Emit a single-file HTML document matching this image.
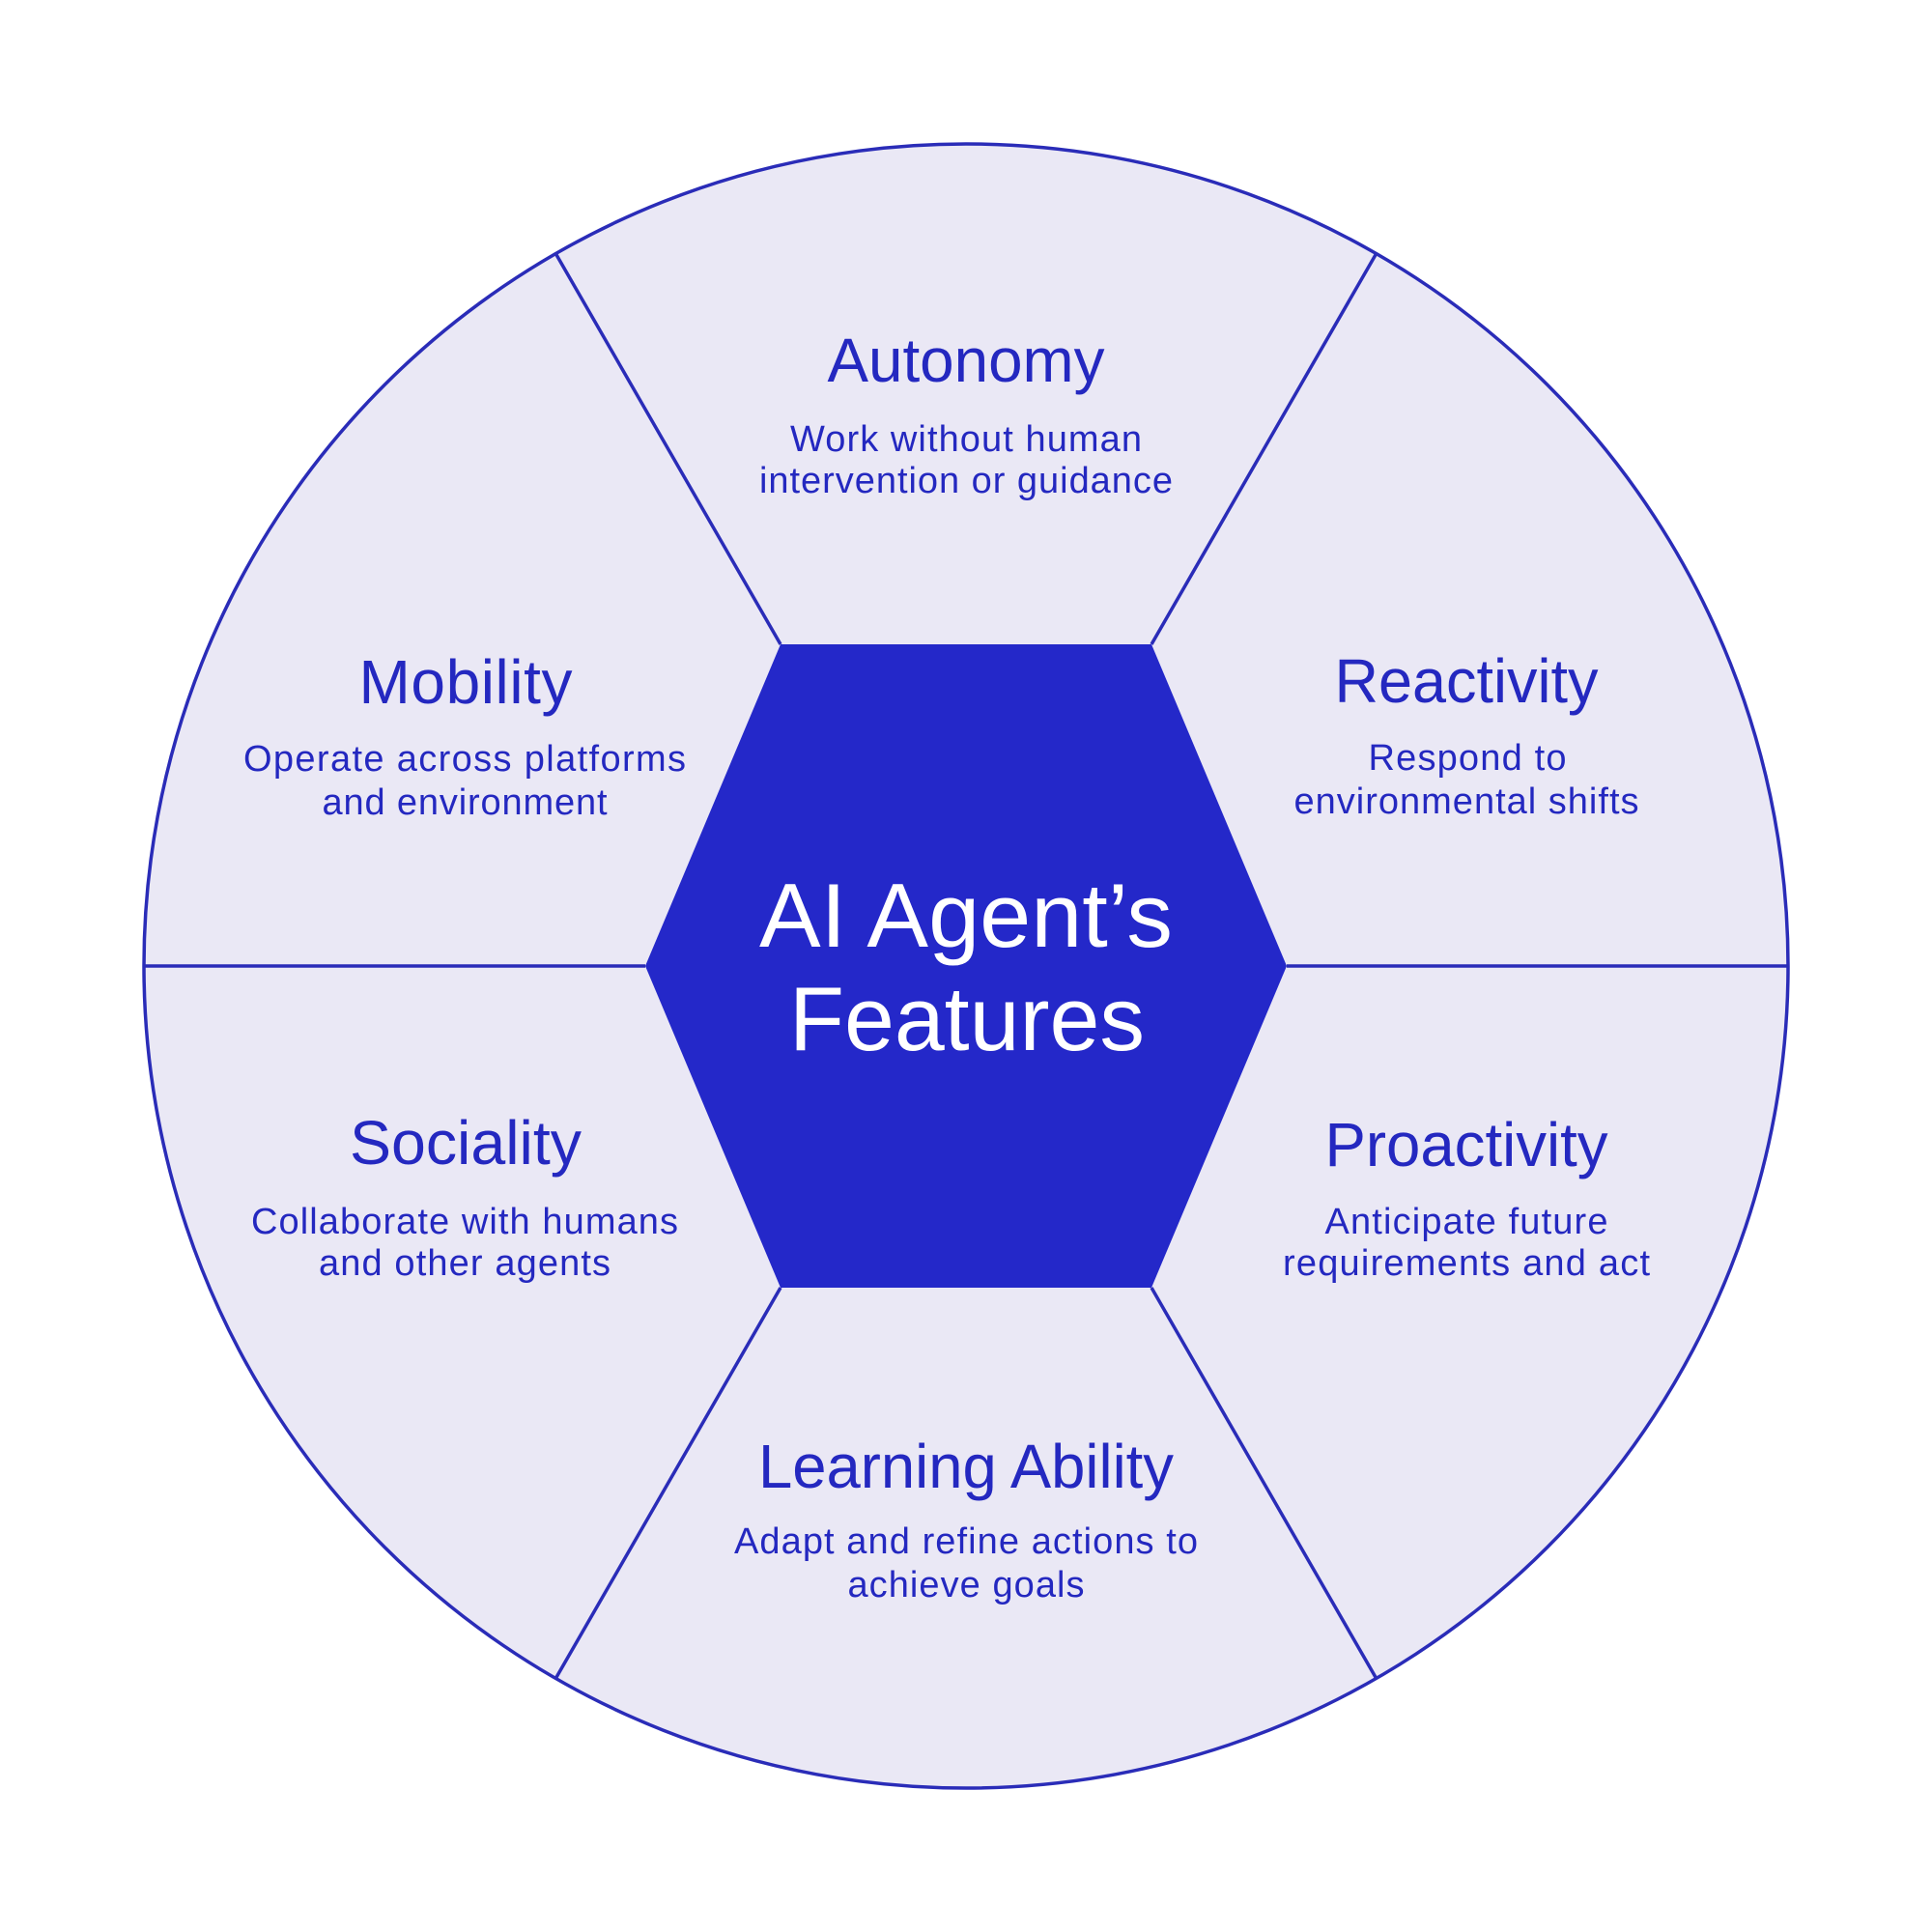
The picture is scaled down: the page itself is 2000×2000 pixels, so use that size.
<!DOCTYPE html>
<html>
<head>
<meta charset="utf-8">
<style>
  html, body { margin: 0; padding: 0; background: #ffffff; }
  svg { display: block; }
  text { font-family: "Liberation Sans", "DejaVu Sans", sans-serif; }
  .t { font-size: 64px; fill: #2428c0; }
  .d { font-size: 38px; fill: #2428c0; }
  .c { font-size: 94px; fill: #ffffff; }
</style>
</head>
<body>
<svg width="2000" height="2000" viewBox="0 0 2000 2000" xmlns="http://www.w3.org/2000/svg">
  <rect width="2000" height="2000" fill="#ffffff"/>
  <circle cx="1000" cy="1000" r="851" fill="#eae8f5" stroke="#2a2cb8" stroke-width="3.5"/>
  <!-- spokes -->
  <g stroke="#2a2cb8" stroke-width="3.5" fill="none">
    <line x1="808" y1="667" x2="575" y2="262"/>
    <line x1="1192" y1="667" x2="1425" y2="262"/>
    <line x1="668" y1="1000" x2="149" y2="1000"/>
    <line x1="1332" y1="1000" x2="1851" y2="1000"/>
    <line x1="808" y1="1333" x2="575" y2="1738"/>
    <line x1="1192" y1="1333" x2="1425" y2="1738"/>
  </g>
  <!-- hexagon -->
  <polygon points="808,667 1192,667 1332,1000 1192,1333 808,1333 668,1000" fill="#2428c9"/>

  <!-- center text -->
  <text class="c" x="1000" y="980" text-anchor="middle" textLength="428" lengthAdjust="spacingAndGlyphs">AI Agent’s</text>
  <text class="c" x="1001" y="1087" text-anchor="middle" textLength="368" lengthAdjust="spacingAndGlyphs">Features</text>

  <!-- Autonomy -->
  <text class="t" x="1000" y="395" text-anchor="middle" textLength="287" lengthAdjust="spacingAndGlyphs">Autonomy</text>
  <text class="d" x="1000" y="467" text-anchor="middle" textLength="364" lengthAdjust="spacing">Work without human</text>
  <text class="d" x="1000" y="510" text-anchor="middle" textLength="428" lengthAdjust="spacing">intervention or guidance</text>

  <!-- Mobility -->
  <text class="t" x="482" y="728" text-anchor="middle" textLength="221" lengthAdjust="spacing">Mobility</text>
  <text class="d" x="481" y="798" text-anchor="middle" textLength="458" lengthAdjust="spacing">Operate across platforms</text>
  <text class="d" x="481" y="843" text-anchor="middle" textLength="295" lengthAdjust="spacing">and environment</text>

  <!-- Reactivity -->
  <text class="t" x="1518" y="727" text-anchor="middle" textLength="273" lengthAdjust="spacingAndGlyphs">Reactivity</text>
  <text class="d" x="1519" y="797" text-anchor="middle" textLength="205" lengthAdjust="spacing">Respond to</text>
  <text class="d" x="1518" y="842" text-anchor="middle" textLength="357" lengthAdjust="spacing">environmental shifts</text>

  <!-- Sociality -->
  <text class="t" x="482" y="1205" text-anchor="middle" textLength="240" lengthAdjust="spacingAndGlyphs">Sociality</text>
  <text class="d" x="481" y="1277" text-anchor="middle" textLength="442" lengthAdjust="spacing">Collaborate with humans</text>
  <text class="d" x="481" y="1320" text-anchor="middle" textLength="302" lengthAdjust="spacing">and other agents</text>

  <!-- Proactivity -->
  <text class="t" x="1518" y="1207" text-anchor="middle" textLength="293" lengthAdjust="spacingAndGlyphs">Proactivity</text>
  <text class="d" x="1518" y="1277" text-anchor="middle" textLength="293" lengthAdjust="spacing">Anticipate future</text>
  <text class="d" x="1518" y="1320" text-anchor="middle" textLength="380" lengthAdjust="spacing">requirements and act</text>

  <!-- Learning Ability -->
  <text class="t" x="1000" y="1540" text-anchor="middle" textLength="430" lengthAdjust="spacingAndGlyphs">Learning Ability</text>
  <text class="d" x="1000" y="1608" text-anchor="middle" textLength="480" lengthAdjust="spacing">Adapt and refine actions to</text>
  <text class="d" x="1000" y="1653" text-anchor="middle" textLength="245" lengthAdjust="spacing">achieve goals</text>
</svg>
</body>
</html>
